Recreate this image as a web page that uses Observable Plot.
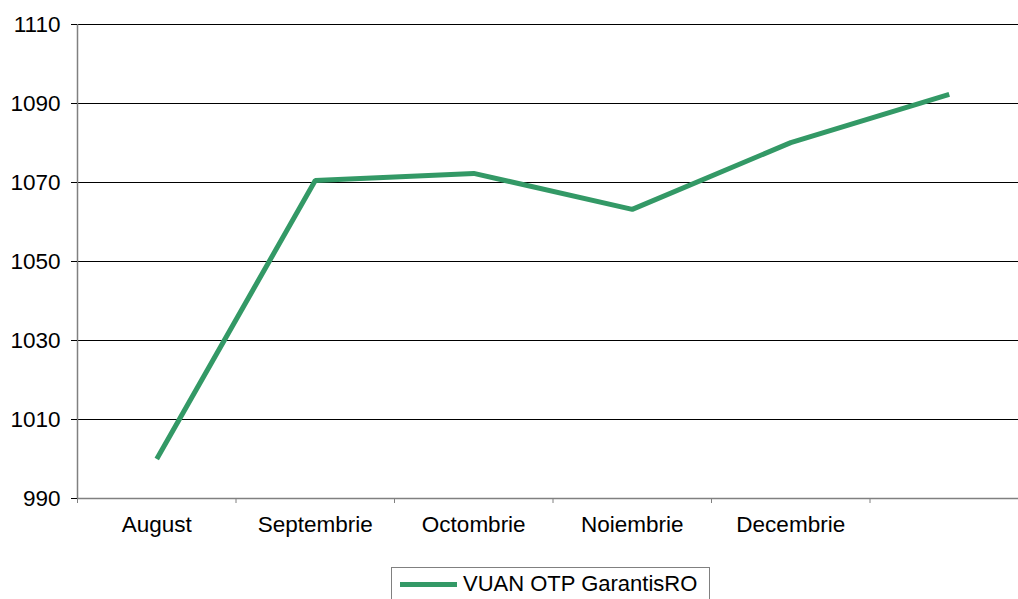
<!DOCTYPE html>
<html>
<head>
<meta charset="utf-8">
<script src="https://cdn.jsdelivr.net/npm/d3@7"></script>
<script src="https://cdn.jsdelivr.net/npm/@observablehq/plot@0.6"></script>
<style>
  html, body { margin: 0; padding: 0; background: #fff; overflow: hidden; }
  #wrap { position: relative; width: 1018px; height: 599px; font-family: "Liberation Sans", Arial, sans-serif; }
  #legend { position: absolute; left: 391px; top: 567px; width: 319px; height: 50px; border: 1px solid #808080; box-sizing: border-box; background: #fff; }
  #legend .sw { position: absolute; left: 8px; top: 14px; width: 57px; height: 5px; background: #339966; }
  #legend .tx { position: absolute; left: 71px; top: 3px; font-size: 22px; color: #000; white-space: nowrap; }
</style>
</head>
<body>
<div id="wrap"></div>
<script>
const categories = ["August", "Septembrie", "Octombrie", "Noiembrie", "Decembrie", ""];
const values = [1000, 1070.5, 1072.3, 1063.2, 1080.1, 1092.3];
const seriesName = "VUAN OTP GarantisRO";
const yTicks = [990, 1010, 1030, 1050, 1070, 1090, 1110];

const data = categories.map((c, i) => ({ i, c, v: values[i] }));
const boundaries = d3.range(-0.5, categories.length, 1);

const chart = Plot.plot({
  width: 1018,
  height: 555,
  marginTop: 24,
  marginBottom: 57,
  marginLeft: 77,
  marginRight: 0,
  style: { fontFamily: "'Liberation Sans', Arial, sans-serif", fontSize: "22px", color: "#000", background: "#fff" },
  x: { type: "linear", domain: [-0.5, categories.length - 0.5], range: [77, 1028] },
  y: { domain: [990, 1110], range: [498, 24] },
  marks: [
    Plot.ruleY(yTicks.filter(t => t > 990), { y: d => d, x1: -0.5, x2: categories.length, stroke: "#000", strokeWidth: 1 }),
    Plot.ruleY([990], { x1: -0.5, x2: categories.length, stroke: "#808080", strokeWidth: 1.5 }),
    Plot.ruleX([-0.5], { y1: 990, y2: 1110, stroke: "#808080", strokeWidth: 1.5 }),
    Plot.axisY({ ticks: yTicks, tickSize: 6, tickPadding: 11, stroke: "#000", fontSize: 22.5, tickFormat: d => String(d), label: null }),
    Plot.axisX({ ticks: boundaries, tickSize: 5, tickFormat: () => "", stroke: "#808080", label: null }),
    Plot.axisX({ ticks: d3.range(categories.length), tickSize: 0, tickPadding: 18, fontSize: 22.5, tickFormat: i => categories[i], label: null }),
    Plot.line(data, { x: "i", y: "v", stroke: "#339966", strokeWidth: 5, strokeLinejoin: "miter", strokeLinecap: "butt" })
  ]
});
const wrap = document.getElementById("wrap");
wrap.appendChild(chart);
const legend = document.createElement("div");
legend.id = "legend";
legend.innerHTML = `<div class="sw"></div><div class="tx"></div>`;
legend.querySelector(".tx").textContent = seriesName;
wrap.appendChild(legend);
</script>
</body>
</html>
